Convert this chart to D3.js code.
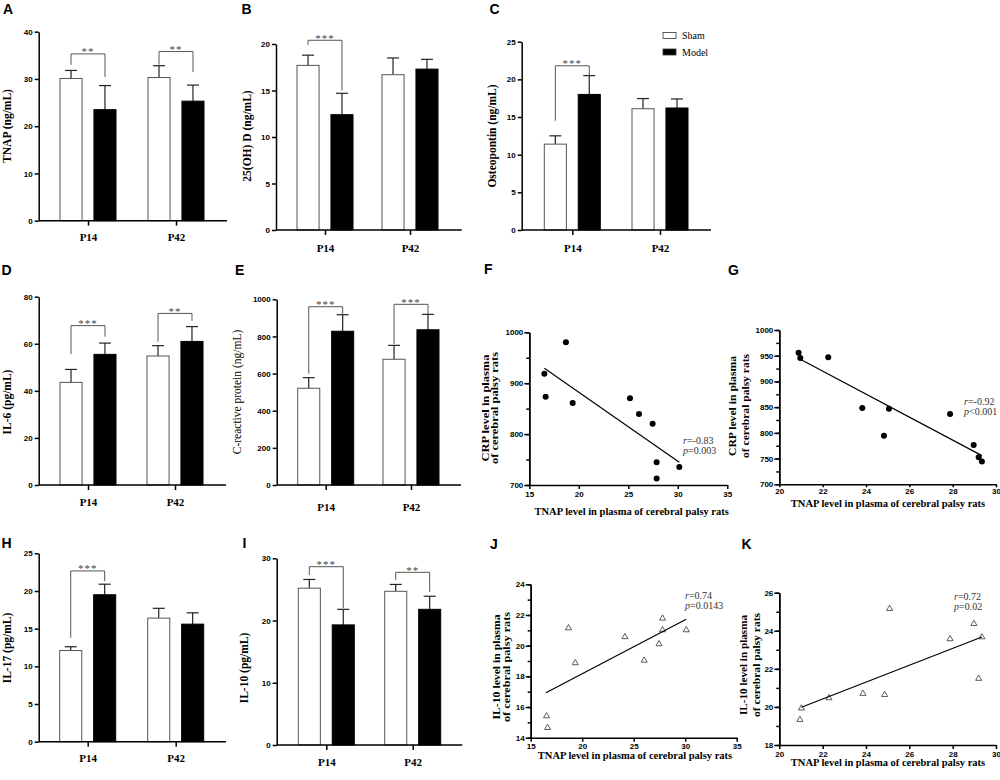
<!DOCTYPE html>
<html>
<head>
<meta charset="utf-8">
<script src="https://cdn.jsdelivr.net/npm/d3@7"></script>
<style>
  body { margin: 0; background: #fff; }
  svg text { fill: #000; }
  .tick text { font-family: "Liberation Sans", Arial, sans-serif; font-weight: bold; font-size: 8px; }
  .cat .tick text { font-family: "Liberation Serif", "Times New Roman", serif; font-size: 11px; }
  .axis path, .axis line { stroke: #000; stroke-width: 1.5px; }
</style>
</head>
<body>
<svg id="fig" width="1000" height="780"></svg>
<script>
// ---- data ----
var periods = ["P14", "P42"];
var groups = ["Sham", "Model"];

// bar panels: means and SD (only upper bar drawn)
var tnapSham = [30.1, 30.3],   tnapShamSd = [1.7, 2.5];
var tnapModel = [23.5, 25.3],  tnapModelSd = [5.1, 3.4];
var vitdSham = [17.7, 16.7],   vitdShamSd = [1.1, 1.8];
var vitdModel = [12.4, 17.3],  vitdModelSd = [2.3, 1.05];
var opnSham = [11.4, 16.1],    opnShamSd = [1.1, 1.35];
var opnModel = [18.0, 16.2],   opnModelSd = [2.5, 1.2];
var il6Sham = [43.6, 54.8],    il6ShamSd = [5.5, 4.4];
var il6Model = [55.5, 61.0],   il6ModelSd = [4.8, 6.3];
var crpSham = [521, 677],      crpShamSd = [57, 75];
var crpModel = [828, 836],     crpModelSd = [89, 83];
var il17Sham = [12.1, 16.4],   il17ShamSd = [0.5, 1.3];
var il17Model = [19.5, 15.6],  il17ModelSd = [1.4, 1.5];
var il10Sham = [25.2, 24.7],   il10ShamSd = [1.4, 1.1];
var il10Model = [19.3, 21.8],  il10ModelSd = [2.5, 2.1];

// significance brackets: [period, top, left leg end, right leg end, stars]
var tnapSig = [["P14", 35.3, 33.0, 30.4, "**"], ["P42", 35.8, 33.0, 31.5, "**"]];
var vitdSig = [["P14", 20.4, 19.9, 15.0, "***"]];
var opnSig  = [["P14", 21.8, 14.5, 20.5, "***"]];
var il6Sig  = [["P14", 67.7, 55.6, 63.0, "***"], ["P42", 72.9, 60.9, 69.8, "**"]];
var crpSig  = [["P14", 960, 600, 920, "***"], ["P42", 973, 760, 920, "***"]];
var il17Sig = [["P14", 22.66, 13.8, 21.3, "***"]];
var il10Sig = [["P14", 28.65, 27.3, 22.0, "***"], ["P42", 27.75, 26.5, 24.6, "**"]];

// scatter panels
var crpTnapP14X = [16.52, 16.65, 18.70, 19.38, 25.17, 26.08, 27.46, 27.86, 27.86, 30.15];
var crpTnapP14Y = [918.7, 873.5, 980.3, 861.0, 870.3, 839.5, 820.5, 744.5, 713.0, 735.4];
var crpTnapP42X = [20.89, 20.97, 22.26, 23.83, 24.83, 25.06, 27.88, 28.97, 29.20, 29.35];
var crpTnapP42Y = [956.0, 945.6, 946.9, 848.4, 794.6, 847.1, 836.7, 776.5, 752.5, 744.1];
var il10TnapP14X = [16.54, 16.64, 18.67, 19.33, 24.15, 26.02, 27.46, 27.80, 27.80, 30.10];
var il10TnapP14Y = [15.41, 14.65, 21.15, 18.87, 20.57, 19.04, 20.11, 21.78, 21.02, 21.02];
var il10TnapP42X = [20.95, 21.02, 22.29, 23.86, 24.86, 25.09, 27.88, 28.98, 29.20, 29.35];
var il10TnapP42Y = [19.33, 19.93, 20.47, 20.70, 20.64, 25.16, 23.57, 24.37, 21.49, 23.67];

// fitted lines as drawn: [x start, y start, x end, y end]
var crpP14Fit = [16.52, 929.2, 30.15, 744.5];
var crpP42Fit = [20.97, 943.0, 29.35, 755.7];
var il10P14Fit = [16.48, 16.93, 30.10, 21.72];
var il10P42Fit = [21.02, 19.98, 29.35, 23.67];

var svg = d3.select("#fig");
var serif = "'Liberation Serif', 'Times New Roman', serif";
var sans = "'Liberation Sans', Arial, sans-serif";

function panelLetter(t, x, y) {
  svg.append("text").attr("x", x).attr("y", y).text(t)
    .style("font-family", sans).style("font-weight", "bold").style("font-size", "14px");
}

function yTitle(lines, xs, cy, size, weight, lens) {
  lines.forEach(function(s, i) {
    var t = svg.append("text")
      .attr("transform", "translate(" + xs[i] + "," + cy + ") rotate(-90)")
      .attr("text-anchor", "middle")
      .style("font-family", serif).style("font-size", size + "px").style("font-weight", weight)
      .text(s);
    if (lens) t.attr("textLength", lens[i]).attr("lengthAdjust", "spacingAndGlyphs");
  });
}

function barPanel(p) {
  var g = svg.append("g");
  var y = d3.scaleLinear().domain([0, p.max]).range([p.bottom, p.top]);
  var x = d3.scalePoint().domain(periods).range(p.centers);
  var sub = d3.scaleBand().domain(groups).range([-28, 28]).paddingInner(0.35);

  var rows = [];
  periods.forEach(function(per, i) {
    rows.push({grp: "Sham", per: per, v: p.sham[i], sd: p.shamSd[i]});
    rows.push({grp: "Model", per: per, v: p.model[i], sd: p.modelSd[i]});
  });
  function cx(d) { return x(d.per) + sub(d.grp) + sub.bandwidth() / 2; }

  // error bars (upper only)
  var eb = g.selectAll(".eb").data(rows).enter().append("g").attr("class", "eb")
    .style("stroke", "#222").style("stroke-width", 1.2);
  eb.append("line").attr("x1", cx).attr("x2", cx)
    .attr("y1", function(d) { return y(d.v); })
    .attr("y2", function(d) { return y(d.v + d.sd); });
  eb.append("line").attr("x1", function(d) { return cx(d) - 6; }).attr("x2", function(d) { return cx(d) + 6; })
    .attr("y1", function(d) { return y(d.v + d.sd); })
    .attr("y2", function(d) { return y(d.v + d.sd); });

  g.selectAll(".bar").data(rows).enter().append("rect")
    .attr("x", function(d) { return x(d.per) + sub(d.grp); })
    .attr("width", sub.bandwidth())
    .attr("y", function(d) { return y(d.v); })
    .attr("height", function(d) { return y(0) - y(d.v); })
    .style("fill", function(d) { return d.grp === "Sham" ? "#fff" : "#000"; })
    .style("stroke", function(d) { return d.grp === "Sham" ? "#555" : "#000"; })
    .style("stroke-width", 1);

  // brackets
  var br = g.selectAll(".br").data(p.sig).enter().append("g");
  br.append("path")
    .attr("d", function(d) {
      var xl = x(d[0]) + sub("Sham") + sub.bandwidth() / 2;
      var xr = x(d[0]) + sub("Model") + sub.bandwidth() / 2;
      return "M" + xl + "," + y(d[2]) + "V" + y(d[1]) + "H" + xr + "V" + y(d[3]);
    })
    .style("fill", "none").style("stroke", "#555").style("stroke-width", 1);
  br.append("text")
    .attr("x", function(d) { return x(d[0]); })
    .attr("y", function(d) { return y(d[1]) + 1.5; })
    .attr("text-anchor", "middle")
    .style("font-family", serif).style("font-size", "11px").style("fill", "#444")
    .style("letter-spacing", "1px")
    .text(function(d) { return d[4]; });

  // axes
  g.append("g").attr("class", "axis").attr("transform", "translate(" + p.x0 + ",0)")
    .call(d3.axisLeft(y).tickValues(d3.range(0, p.max + 1e-9, p.step)).tickFormat(d3.format("d"))
      .tickSize(4).tickPadding(2).tickSizeOuter(0));
  var xa = g.append("g").attr("class", "axis cat").attr("transform", "translate(0," + y(0) + ")")
    .call(d3.axisBottom(x).tickSize(5).tickPadding(p.catPad));
  xa.select(".domain").remove();
  xa.append("line").attr("x1", p.x0).attr("x2", p.x1).style("stroke", "#000").style("stroke-width", 1.5);
  xa.selectAll(".tick text").style("font-weight", "bold");

  yTitle([p.title], [p.tx], p.ty, p.tsize || 11.5, p.tweight || "bold");
}

function scatterPanel(p) {
  var g = svg.append("g");
  var x = d3.scaleLinear().domain(p.xd).range([p.x0, p.x1]);
  var y = d3.scaleLinear().domain(p.yd).range([p.bottom, p.top]);

  g.append("g").attr("class", "axis").attr("transform", "translate(0," + p.bottom + ")")
    .call(d3.axisBottom(x).tickValues(d3.range(p.xd[0], p.xd[1] + 1e-9, p.xstep)).tickFormat(d3.format("d"))
      .tickSize(p.xtick || 4).tickPadding(p.xpad || 2).tickSizeOuter(0));
  g.append("g").attr("class", "axis").attr("transform", "translate(" + p.x0 + ",0)")
    .call(d3.axisLeft(y).tickValues(d3.range(p.yd[0], p.yd[1] + 1e-9, p.ystep / 2)).tickSize(3).tickFormat("").tickSizeOuter(0));
  g.append("g").attr("class", "axis").attr("transform", "translate(" + p.x0 + ",0)")
    .call(d3.axisLeft(y).tickValues(d3.range(p.yd[0], p.yd[1] + 1e-9, p.ystep)).tickFormat(d3.format("d"))
      .tickSize(5).tickPadding(1).tickSizeOuter(0));

  var pts = p.xs.map(function(v, i) { return [v, p.ys[i]]; });
  if (p.shape === "circle") {
    g.selectAll(".pt").data(pts).enter().append("circle")
      .attr("cx", function(d) { return x(d[0]); }).attr("cy", function(d) { return y(d[1]); })
      .attr("r", 3).style("fill", "#000");
  } else {
    var tri = d3.symbol().type(d3.symbolTriangle).size(16);
    g.selectAll(".pt").data(pts).enter().append("path")
      .attr("d", tri)
      .attr("transform", function(d) { return "translate(" + x(d[0]) + "," + y(d[1]) + ")"; })
      .style("fill", "none").style("stroke", "#333").style("stroke-width", 0.8);
  }

  g.append("line")
    .attr("x1", x(p.fit[0])).attr("y1", y(p.fit[1]))
    .attr("x2", x(p.fit[2])).attr("y2", y(p.fit[3]))
    .style("stroke", "#000").style("stroke-width", 1.2);

  var ann = g.append("g").style("font-family", serif).style("font-size", "10px");
  var t1 = ann.append("text").attr("x", p.ax).attr("y", p.ay).style("fill", "#333");
  t1.append("tspan").style("font-style", "italic").text("r");
  t1.append("tspan").text(p.rText);
  var t2 = ann.append("text").attr("x", p.ax).attr("y", p.ay + 10).style("fill", "#333");
  t2.append("tspan").style("font-style", "italic").text("p");
  t2.append("tspan").text(p.pText);

  g.append("text").attr("x", p.xtx).attr("y", p.xty).attr("text-anchor", "middle")
    .style("font-family", serif).style("font-weight", "bold").style("font-size", "10.5px")
    .text("TNAP level in plasma of cerebral palsy rats");

  yTitle(p.ytitle, p.ytx, p.yty, 10, "bold", p.ylen);
}

// ---- bar panels ----
barPanel({sham: tnapSham, shamSd: tnapShamSd, model: tnapModel, modelSd: tnapModelSd, sig: tnapSig,
  max: 40, step: 10, x0: 38.7, x1: 227, top: 31.7, bottom: 220.7, centers: [88, 176], catPad: 8,
  title: "TNAP (ng/mL)", tx: 11, ty: 126});
barPanel({sham: vitdSham, shamSd: vitdShamSd, model: vitdModel, modelSd: vitdModelSd, sig: vitdSig,
  max: 20, step: 5, x0: 276, x1: 461.7, top: 44, bottom: 230, centers: [325, 410], catPad: 9,
  title: "25(OH) D (ng/mL)", tx: 251, ty: 136});
barPanel({sham: opnSham, shamSd: opnShamSd, model: opnModel, modelSd: opnModelSd, sig: opnSig,
  max: 25, step: 5, x0: 521.7, x1: 711, top: 41.7, bottom: 230, centers: [572.3, 660], catPad: 9,
  title: "Osteopontin (ng/mL)", tx: 496, ty: 136});
barPanel({sham: il6Sham, shamSd: il6ShamSd, model: il6Model, modelSd: il6ModelSd, sig: il6Sig,
  max: 80, step: 20, x0: 38.7, x1: 226, top: 296.7, bottom: 485, centers: [88, 175], catPad: 8,
  title: "IL-6 (pg/mL)", tx: 11, ty: 402});
barPanel({sham: crpSham, shamSd: crpShamSd, model: crpModel, modelSd: crpModelSd, sig: crpSig,
  max: 1000, step: 200, x0: 276.7, x1: 461, top: 299.3, bottom: 485, centers: [325.7, 411], catPad: 13,
  title: "C-reactive protein (ng/mL)", tx: 241, ty: 392, tweight: "normal"});
barPanel({sham: il17Sham, shamSd: il17ShamSd, model: il17Model, modelSd: il17ModelSd, sig: il17Sig,
  max: 25, step: 5, x0: 38.7, x1: 226, top: 553.3, bottom: 741.7, centers: [87.7, 175.7], catPad: 8,
  title: "IL-17 (pg/mL)", tx: 11, ty: 648});
barPanel({sham: il10Sham, shamSd: il10ShamSd, model: il10Model, modelSd: il10ModelSd, sig: il10Sig,
  max: 30, step: 10, x0: 276.7, x1: 462.3, top: 558.3, bottom: 745, centers: [326.3, 412.7], catPad: 8,
  title: "IL-10 (pg/mL)", tx: 248, ty: 668});

// legend (panel C)
var leg = svg.append("g").style("font-family", serif).style("font-size", "10px");
groups.forEach(function(gname, i) {
  leg.append("rect").attr("x", 663).attr("y", 32.5 + i * 16.5).attr("width", 13).attr("height", 6)
    .style("fill", gname === "Sham" ? "#fff" : "#000").style("stroke", "#333").style("stroke-width", 0.8);
  leg.append("text").attr("x", 682).attr("y", 39 + i * 16.5).text(gname);
});

// ---- scatter panels ----
scatterPanel({xs: crpTnapP14X, ys: crpTnapP14Y, fit: crpP14Fit, shape: "circle",
  xd: [15, 35], xstep: 5, yd: [700, 1000], ystep: 100,
  x0: 529.3, x1: 727.3, top: 332.3, bottom: 485,
  ax: 683, ay: 443.5, rText: "=-0.83", pText: "=0.003",
  xtx: 631.7, xty: 515,
  ytitle: ["CRP level in plasma", "of cerebral palsy rats"], ytx: [489, 497.5], yty: 408, ylen: [107, 112]});
scatterPanel({xs: crpTnapP42X, ys: crpTnapP42Y, fit: crpP42Fit, shape: "circle",
  xd: [20, 30], xstep: 2, yd: [700, 1000], ystep: 50,
  x0: 779.3, x1: 996, top: 330, bottom: 484.3, xtick: 3, xpad: 1,
  ax: 964, ay: 405, rText: "=-0.92", pText: "<0.001",
  xtx: 888, xty: 506.5,
  ytitle: ["CRP level in plasma", "of cerebral palsy rats"], ytx: [736, 749], yty: 406, ylen: [100, 104]});
scatterPanel({xs: il10TnapP14X, ys: il10TnapP14Y, fit: il10P14Fit, shape: "triangle",
  xd: [15, 35], xstep: 5, yd: [14, 24], ystep: 2,
  x0: 530.7, x1: 736.7, top: 584.3, bottom: 737.7,
  ax: 685, ay: 599, rText: "=0.74", pText: "=0.0143",
  xtx: 635, xty: 758.5,
  ytitle: ["IL-10 level in plasma", "of cerebral palsy rats"], ytx: [499.5, 509.5], yty: 667, ylen: [105, 110]});
scatterPanel({xs: il10TnapP42X, ys: il10TnapP42Y, fit: il10P42Fit, shape: "triangle",
  xd: [20, 30], xstep: 2, yd: [18, 26], ystep: 2,
  x0: 779.3, x1: 996, top: 592.7, bottom: 745,
  ax: 954, ay: 600, rText: "=0.72", pText: "=0.02",
  xtx: 888, xty: 766,
  ytitle: ["IL-10 level in plasma", "of cerebral palsy rats"], ytx: [746.5, 759.5], yty: 665, ylen: [100, 104]});

// panel letters
[["A", 3, 13.5], ["B", 241.5, 13.5], ["C", 489.5, 13.5],
 ["D", 1.5, 274.5], ["E", 235, 274.5], ["F", 484, 274], ["G", 728, 274.5],
 ["H", 1.5, 548], ["I", 242.5, 548], ["J", 490, 548.5], ["K", 741.5, 548.5]]
  .forEach(function(d) { panelLetter(d[0], d[1], d[2]); });
</script>
</body>
</html>
